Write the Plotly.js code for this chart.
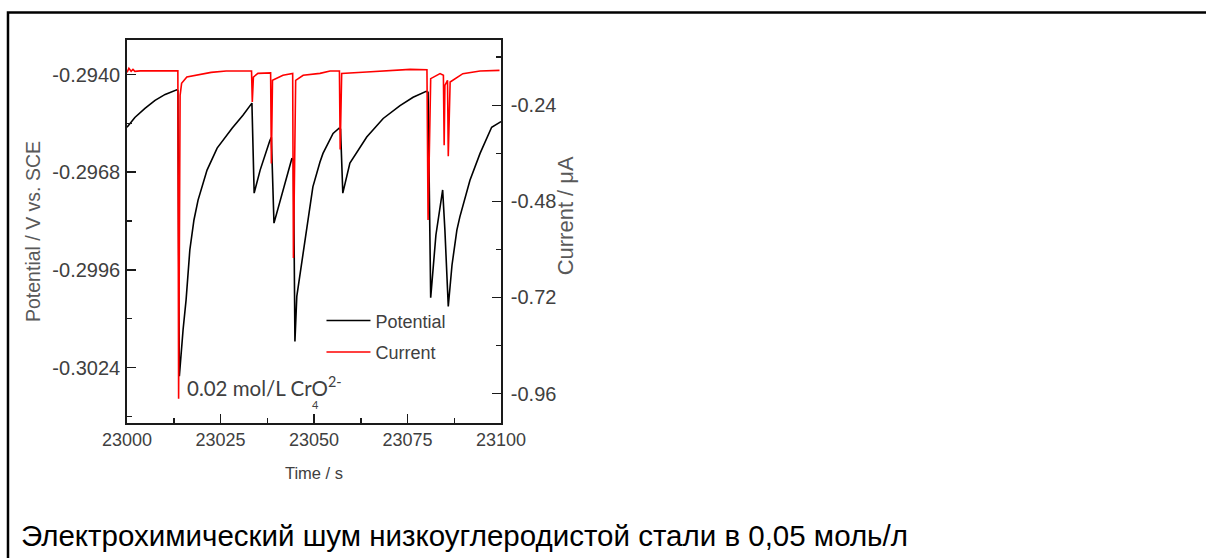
<!DOCTYPE html>
<html><head><meta charset="utf-8">
<script src="https://cdn.plot.ly/plotly-3.0.1.min.js"></script>
<style>html,body{margin:0;padding:0;background:#fff;overflow:hidden}#chart{width:1206px;height:558px}</style>
</head><body><div id="chart"></div>
<script>
// Potential (black, left axis, V vs. SCE)
const potentialTime = [23000.0,23002.1,23004.8,23007.5,23010.2,23013.3,23013.6,23014.0,23015.0,23015.8,23016.8,23017.9,23019.0,23021.4,23024.1,23028.1,23031.0,23033.4,
  23034.0,23035.6,23038.2,23038.6,23039.3,23041.7,23044.1,23044.5,23044.9,23045.4,23046.7,23048.1,23049.7,23051.6,23052.4,23055.1,23056.7,23057.1,
  23057.7,23059.6,23064.1,23068.5,23073.0,23076.5,23080.0,23080.5,23081.2,23082.6,23084.4,23085.0,23085.9,23086.9,23088.2,23089.0,23091.7,23094.4,23097.5,23100.0];
const potentialValue = [-0.29551,-0.29523,-0.29497,-0.29474,-0.29457,-0.29444,-0.29446,-0.30265,-0.30131,-0.30046,-0.29903,-0.29817,-0.29760,-0.29674,-0.29611,-0.29554,-0.29517,-0.29482,
  -0.29740,-0.29674,-0.29589,-0.29580,-0.29826,-0.29731,-0.29640,-0.29646,-0.30165,-0.30036,-0.29940,-0.29846,-0.29722,-0.29651,-0.29626,-0.29569,-0.29554,-0.29557,
  -0.29740,-0.29654,-0.29579,-0.29526,-0.29489,-0.29465,-0.29448,-0.29451,-0.30040,-0.29860,-0.29731,-0.29846,-0.30065,-0.29946,-0.29846,-0.29808,-0.29703,-0.29626,-0.29551,-0.29535];

// Current (red, right axis, µA)
const currentTime = [23000.0,23000.5,23001.1,23001.6,23002.1,23003.5,23013.6,23013.8,23014.2,23014.6,23016.0,23018.2,23020.3,23022.5,23026.5,23033.3,23033.5,23033.8,
  23035.0,23038.4,23038.6,23038.9,23041.7,23044.3,23044.5,23045.1,23047.1,23051.6,23054.3,23056.8,23057.0,23057.4,23064.1,23073.0,23075.7,23080.2,
  23080.5,23081.2,23083.7,23084.6,23084.8,23085.0,23085.7,23085.9,23086.4,23089.8,23094.4,23099.6];
const currentValue = [-0.1578,-0.1478,-0.1553,-0.1503,-0.1553,-0.1540,-0.1540,-0.9727,-0.2151,-0.1852,-0.1695,-0.1652,-0.1603,-0.1578,-0.1545,-0.1545,-0.2318,-0.1695,
  -0.1603,-0.1590,-0.3853,-0.1777,-0.1652,-0.1608,-0.6213,-0.1777,-0.1652,-0.1603,-0.1545,-0.1545,-0.3504,-0.1608,-0.1570,-0.1528,-0.1503,-0.1511,
  -0.5266,-0.1735,-0.1610,-0.1652,-0.3397,-0.1902,-0.1777,-0.3671,-0.1819,-0.1610,-0.1545,-0.1528];

const xTickVals = [23000, 23025, 23050, 23075, 23100];
const xTickText = ['23000', '23025', '23050', '23075', '23100'];
const xMinorVals = [23012.5, 23037.5, 23062.5, 23087.5];
const potTickVals = [-0.2940, -0.2968, -0.2996, -0.3024];
const potTickText = ['-0.2940', '-0.2968', '-0.2996', '-0.3024'];
const potMinorVals = [-0.2954, -0.2982, -0.3010, -0.3038];
const curTickVals = [-0.24, -0.48, -0.72, -0.96];
const curTickText = ['-0.24', '-0.48', '-0.72', '-0.96'];
const curMinorVals = [-0.12, -0.36, -0.60, -0.84];

const seriesNames = ['Potential', 'Current'];
const xTitle = 'Time / s';
const y1Title = 'Potential / V vs. SCE';
const y2Title = 'Current / μA';
const noteText = '0.02 mol/L CrO<sup>2-</sup>';
const noteSub = '4';
const caption = 'Электрохимический шум низкоуглеродистой стали в 0,05 моль/л';

const FAM = 'Arial, Liberation Sans, sans-serif';
const xTickFont = {family: FAM, size: 18, color: '#404040'};
const yTickFont = {family: FAM, size: 20, color: '#404040'};

const traces = [
  {x: potentialTime, y: potentialValue, name: seriesNames[0], type: 'scatter', mode: 'lines',
   line: {color: '#000000', width: 1.6}, yaxis: 'y', legendgroup: 'a'},
  {x: currentTime, y: currentValue, name: seriesNames[1], type: 'scatter', mode: 'lines',
   line: {color: '#ff0000', width: 1.6}, yaxis: 'y2', legendgroup: 'b'}
];

const axisCommon = {showgrid: false, zeroline: false, showline: true, linecolor: '#1a1a1a', linewidth: 1.8,
  ticks: 'inside', ticklen: 9, tickwidth: 1.5, tickcolor: '#1a1a1a'};
const minorCommon = {tickmode: 'array', ticks: 'inside', ticklen: 5, tickwidth: 1.5, tickcolor: '#1a1a1a'};

const layout = {
  width: 1206, height: 558,
  margin: {l: 127, r: 705, t: 40, b: 135},
  paper_bgcolor: '#ffffff', plot_bgcolor: '#ffffff',
  showlegend: true,
  legend: {x: 0.52, y: 0.315, xanchor: 'left', yanchor: 'top', bgcolor: 'rgba(0,0,0,0)',
    font: {family: FAM, size: 18, color: '#404040'},
    tracegroupgap: 5, itemwidth: 44},
  xaxis: Object.assign({}, axisCommon, {range: [23000, 23100], tickmode: 'array', tickvals: xTickVals, ticktext: xTickText,
    mirror: true, tickfont: xTickFont,
    minor: Object.assign({tickvals: xMinorVals}, minorCommon),
    title: {text: xTitle, font: {family: FAM, size: 16.5, color: '#404040'}, standoff: 18}}),
  yaxis: Object.assign({}, axisCommon, {range: [-0.30399, -0.29301], tickmode: 'array', tickvals: potTickVals, ticktext: potTickText,
    tickfont: yTickFont, ticklabelstandoff: 1,
    minor: Object.assign({tickvals: potMinorVals}, minorCommon),
    title: {text: y1Title, font: {family: FAM, size: 19.5, color: '#595959'}, standoff: 6}}),
  yaxis2: Object.assign({}, axisCommon, {range: [-1.0335, -0.077], overlaying: 'y', side: 'right', tickmode: 'array',
    tickvals: curTickVals, ticktext: curTickText, tickfont: yTickFont, ticklabelstandoff: 4,
    minor: Object.assign({tickvals: curMinorVals}, minorCommon)}),
  annotations: [
    {xref: 'paper', yref: 'paper', x: 1.171, y: 0.542, xanchor: 'center', yanchor: 'middle', showarrow: false,
     textangle: -90, text: y2Title, font: {family: FAM, size: 22, color: '#595959'}},
    {xref: 'x', yref: 'y', x: 23015.6, y: -0.30294, xanchor: 'left', yanchor: 'middle', showarrow: false,
     text: noteText, font: {family: 'Lato, Open Sans, sans-serif', size: 20.5, color: '#404040'}},
    {xref: 'x', yref: 'y', x: 23050.4, y: -0.30345, xanchor: 'center', yanchor: 'middle', showarrow: false,
     text: noteSub, font: {family: 'Lato, Open Sans, sans-serif', size: 11, color: '#404040'}},
    {xref: 'paper', yref: 'paper', x: -0.2895, y: -0.294, xanchor: 'left', yanchor: 'middle', showarrow: false,
     text: caption, font: {family: FAM, size: 29.5, color: '#000000'}}
  ],
  shapes: [
    {type: 'rect', xref: 'paper', yref: 'paper', x0: -0.3182, x1: 3.3, y0: -0.6, y1: 1.0718,
     line: {color: '#000000', width: 2.5}, fillcolor: 'rgba(0,0,0,0)', layer: 'above'}
  ]
};

Plotly.newPlot('chart', traces, layout, {displayModeBar: false, staticPlot: true});
</script></body></html>
